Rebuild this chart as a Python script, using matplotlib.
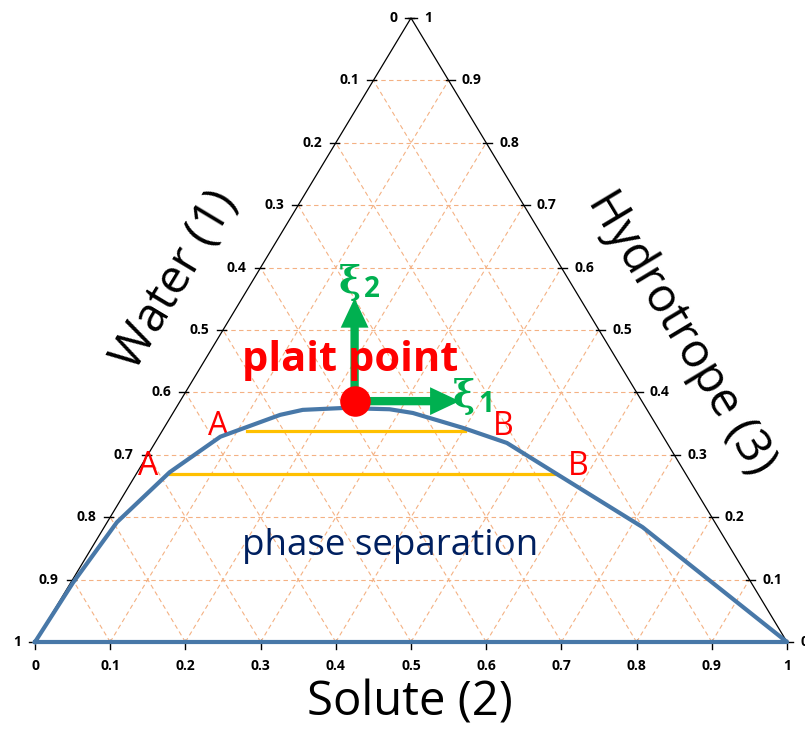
import matplotlib.pyplot as plt
import numpy as np

# ternary composition: solute (2) and hydrotrope (3) fractions, water = 1 - s - h
binodal_solute = [0.000, 0.003, 0.013, 0.043, 0.082, 0.144, 0.170, 0.222, 0.285,
                  0.319, 0.398, 0.468, 0.556, 0.716, 1.000, 0.000]
binodal_hydro = [0.000, 0.095, 0.192, 0.272, 0.329, 0.364, 0.372, 0.375, 0.373,
                 0.367, 0.343, 0.319, 0.271, 0.184, 0.000, 0.000]

tie_solute = [[0.113, 0.403], [0.045, 0.557]]
tie_hydro = [[0.338, 0.338], [0.269, 0.269]]

plait_solute = 0.232
plait_hydro = 0.386

ticks = np.round(np.arange(0, 1.01, 0.1), 1)
tick_labels = ['0', '0.1', '0.2', '0.3', '0.4', '0.5', '0.6', '0.7', '0.8', '0.9', '1']


def tern(s, h):
    s = np.asarray(s, dtype=float)
    h = np.asarray(h, dtype=float)
    return s + h / 2, h


# pixel helpers (for text placement only)
W, H = 752.0, 624.0


def px(x, y):
    return (x - 35) / W, (642 - y) / H


fig = plt.figure(figsize=(8.05, 7.37), dpi=100)
ax = fig.add_axes([35 / 805, 95 / 737, 752 / 805, 624 / 737])
ax.set_xlim(0, 1)
ax.set_ylim(0, 1)
ax.axis('off')

grid_kw = dict(color='#f4b183', lw=0.8, dashes=(4, 3), zorder=1)
for t in ticks[1:-1]:
    # constant hydrotrope
    x, y = tern([0, 1 - t], [t, t])
    ax.plot(x, y, **grid_kw)
    # constant solute
    x, y = tern([t, t], [0, 1 - t])
    ax.plot(x, y, **grid_kw)
    # constant water
    x, y = tern([1 - t, 0], [0, 1 - t])
    ax.plot(x, y, **grid_kw)

# triangle frame
x, y = tern([0, 1, 0, 0], [0, 0, 1, 0])
ax.plot(x, y, color='black', lw=0.9, zorder=2, clip_on=False)

tfont = dict(family='Open Sans', weight='bold', fontsize=10)
for t, lab in zip(ticks, tick_labels):
    # bottom axis: solute
    x, y = tern(t, 0)
    ax.plot([x, x], [y + 2 / H, y - 7 / H], color='black', lw=1, clip_on=False, zorder=2)
    ax.text(x, y - 24 / H, lab, ha='center', va='center', **tfont)
    # left axis: water (0 at apex)
    x, y = tern(0, 1 - t)
    ax.plot([x - 6 / W, x + 3 / W], [y, y], color='black', lw=1, clip_on=False, zorder=2)
    ax.text(x - 14 / W, y, lab, ha='right', va='center', **tfont)
    # right axis: hydrotrope (1 at apex)
    x, y = tern(1 - t, t)
    ax.plot([x - 3 / W, x + 6 / W], [y, y], color='black', lw=1, clip_on=False, zorder=2)
    ax.text(x + 13 / W, y, lab, ha='left', va='center', **tfont)

# tie lines
for ts, th in zip(tie_solute, tie_hydro):
    x, y = tern(ts, th)
    ax.plot(x, y, color='#ffc000', lw=2.3, zorder=3, clip_on=False)

# binodal curve
x, y = tern(binodal_solute, binodal_hydro)
ax.plot(x, y, color='#4878a8', lw=3.0, solid_joinstyle='round', zorder=4, clip_on=False)

# plait point and eigen-directions
px0, py0 = tern(plait_solute, plait_hydro)
arrow = dict(arrowstyle='simple,head_length=0.85,head_width=0.8,tail_width=0.24',
             color='#00b050', lw=0, mutation_scale=25, shrinkA=0, shrinkB=0)
ax.annotate('', xy=(px0, py0 + 103 / H), xytext=(px0, py0 - 12 / H), arrowprops=arrow, zorder=5)
ax.annotate('', xy=(px0 + 105 / W, py0), xytext=(px0, py0), arrowprops=arrow, zorder=5)
ax.plot(px0, py0, 'o', color='#ff0000', ms=22, mec='none', zorder=6)

xi = dict(family='DejaVu Serif', weight='bold', color='#00b050', fontsize=27)
sub = dict(family='Open Sans', weight='bold', color='#00b050', fontsize=20)
ax.text(*px(350, 293), 'ξ', ha='center', va='baseline', **xi)
ax.text(*px(372, 297), '2', ha='center', va='baseline', **sub)
ax.text(*px(464, 407), 'ξ', ha='center', va='baseline', **xi)
ax.text(*px(486, 412), '1', ha='center', va='baseline', **sub)

ax.text(*px(350, 371), 'plait point', fontsize=30, weight='bold', color='#ff0000',
        family='Open Sans', ha='center', va='baseline', zorder=7)

lab = dict(fontsize=23, color='#ff0000', family='Open Sans', ha='center', va='baseline')
ax.text(*px(218, 435), 'A', **lab)
ax.text(*px(148, 475), 'A', **lab)
ax.text(*px(503, 435), 'B', **lab)
ax.text(*px(578, 475), 'B', **lab)

ax.text(*px(390, 555), 'phase separation', fontsize=26.5, color='#002060',
        family='Open Sans', ha='center', va='baseline')

title = dict(fontsize=34, family='Open Sans', color='black', ha='center', va='center')
ax.text(*px(410, 703), 'Solute (2)', **title)
ax.text(*px(175, 280), 'Water (1)', rotation=59, rotation_mode='anchor', **title)
ax.text(*px(681, 333), 'Hydrotrope (3)', rotation=-59, rotation_mode='anchor', **title)

fig.savefig('out.png', dpi=100)
